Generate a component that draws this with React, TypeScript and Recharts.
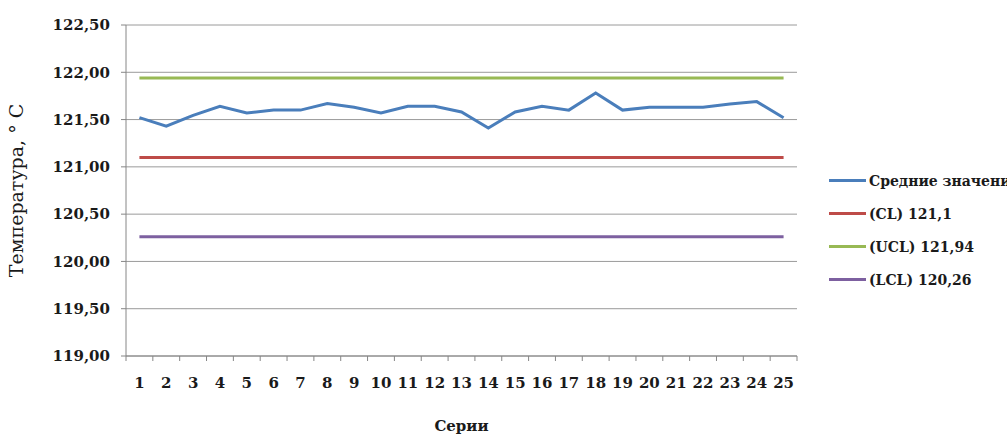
import {
  LineChart,
  Line,
  XAxis,
  YAxis,
  CartesianGrid,
  Legend,
} from "recharts";

const series = [1, 2, 3, 4, 5, 6, 7, 8, 9, 10, 11, 12, 13, 14, 15, 16, 17, 18, 19, 20, 21, 22, 23, 24, 25];
const means = [
  121.52, 121.43, 121.545, 121.64, 121.57, 121.6, 121.6, 121.67, 121.63, 121.57,
  121.64, 121.64, 121.58, 121.41, 121.58, 121.64, 121.6, 121.78, 121.6, 121.63,
  121.63, 121.63, 121.665, 121.69, 121.52,
];
const CL = 121.1;
const UCL = 121.94;
const LCL = 120.26;
const yTicks = [119, 119.5, 120, 120.5, 121, 121.5, 122, 122.5];
const boundTicks = [0.5, 1.5, 2.5, 3.5, 4.5, 5.5, 6.5, 7.5, 8.5, 9.5, 10.5, 11.5, 12.5, 13.5, 14.5, 15.5, 16.5, 17.5, 18.5, 19.5, 20.5, 21.5, 22.5, 23.5, 24.5, 25.5];

const legendItems = [
  { key: "mean", name: "Средние значения", color: "#4a7ebb" },
  { key: "cl", name: "(CL) 121,1", color: "#be4b48" },
  { key: "ucl", name: "(UCL) 121,94", color: "#98b954" },
  { key: "lcl", name: "(LCL) 120,26", color: "#7d60a0" },
];

const data = series.map((s, i) => ({ serie: s, mean: means[i], cl: CL, ucl: UCL, lcl: LCL }));

const tickFont = { fontFamily: "DejaVu Serif", fontWeight: "bold", fontSize: 15, fill: "#1a1a1a" };
const fmt = (v: number) => v.toFixed(2).replace(".", ",");

function LegendBox() {
  return (
    <div style={{ fontFamily: "DejaVu Serif", fontWeight: "bold", fontSize: 14, color: "#1a1a1a" }}>
      {legendItems.map((it) => (
        <div key={it.key} style={{ display: "flex", alignItems: "center", height: 33, whiteSpace: "nowrap" }}>
          <span style={{ display: "inline-block", width: 37, height: 3, background: it.color, marginRight: 3 }} />
          <span>{it.name}</span>
        </div>
      ))}
    </div>
  );
}

export default function App() {
  return (
    <div style={{ position: "absolute", left: 0, top: 0, width: 1007, height: 434, background: "#fff", overflow: "hidden" }}>
      <LineChart width={1007} height={434} data={data} margin={{ top: 25, right: 210, bottom: 0, left: 0 }}>
        <CartesianGrid vertical={false} stroke="#9a9a9a" />
        {/* tick marks between categories */}
        <XAxis
          type="number"
          dataKey="serie"
          domain={[0.5, 25.5]}
          ticks={boundTicks}
          interval={0}
          tickFormatter={() => ""}
          axisLine={{ stroke: "#868686" }}
          tickLine={{ stroke: "#868686" }}
          tickSize={5}
          height={1}
        />
        {/* category labels */}
        <XAxis
          xAxisId="lab"
          type="number"
          dataKey="serie"
          domain={[0.5, 25.5]}
          ticks={series}
          tick={tickFont}
          tickLine={false}
          axisLine={false}
          tickSize={4}
          tickMargin={16}
          height={77}
          interval={0}
          label={{
            value: "Серии",
            position: "insideBottom",
            offset: 3,
            style: { fontFamily: "DejaVu Serif", fontWeight: "bold", fontSize: 15, fill: "#1a1a1a" },
          }}
        />
        <YAxis
          width={126}
          domain={[119, 122.5]}
          ticks={yTicks}
          tickFormatter={fmt}
          tick={tickFont}
          axisLine={{ stroke: "#868686" }}
          tickLine={{ stroke: "#868686" }}
          tickSize={5}
          tickMargin={11}
          interval={0}
          label={{
            content: ({ viewBox }: any) => {
              const cy = viewBox.y + viewBox.height / 2;
              return (
                <text
                  x={23}
                  y={cy}
                  transform={`rotate(-90, 23, ${cy})`}
                  textAnchor="middle"
                  style={{ fontFamily: "DejaVu Serif", fontSize: 19, fill: "#1a1a1a" }}
                >
                  Температура, ° С
                </text>
              );
            },
          }}
        />
        <Legend
          layout="horizontal"
          align="center"
          verticalAlign="middle"
          content={() => <LegendBox />}
          wrapperStyle={{ position: "absolute", left: 829, top: 164, width: 200 }}
        />
        <Line dataKey="mean" name="Средние значения" stroke="#4a7ebb" strokeWidth={3} dot={false} isAnimationActive={false} />
        <Line dataKey="cl" name="(CL) 121,1" stroke="#be4b48" strokeWidth={3} dot={false} isAnimationActive={false} />
        <Line dataKey="ucl" name="(UCL) 121,94" stroke="#98b954" strokeWidth={3} dot={false} isAnimationActive={false} />
        <Line dataKey="lcl" name="(LCL) 120,26" stroke="#7d60a0" strokeWidth={3} dot={false} isAnimationActive={false} />
      </LineChart>
    </div>
  );
}
